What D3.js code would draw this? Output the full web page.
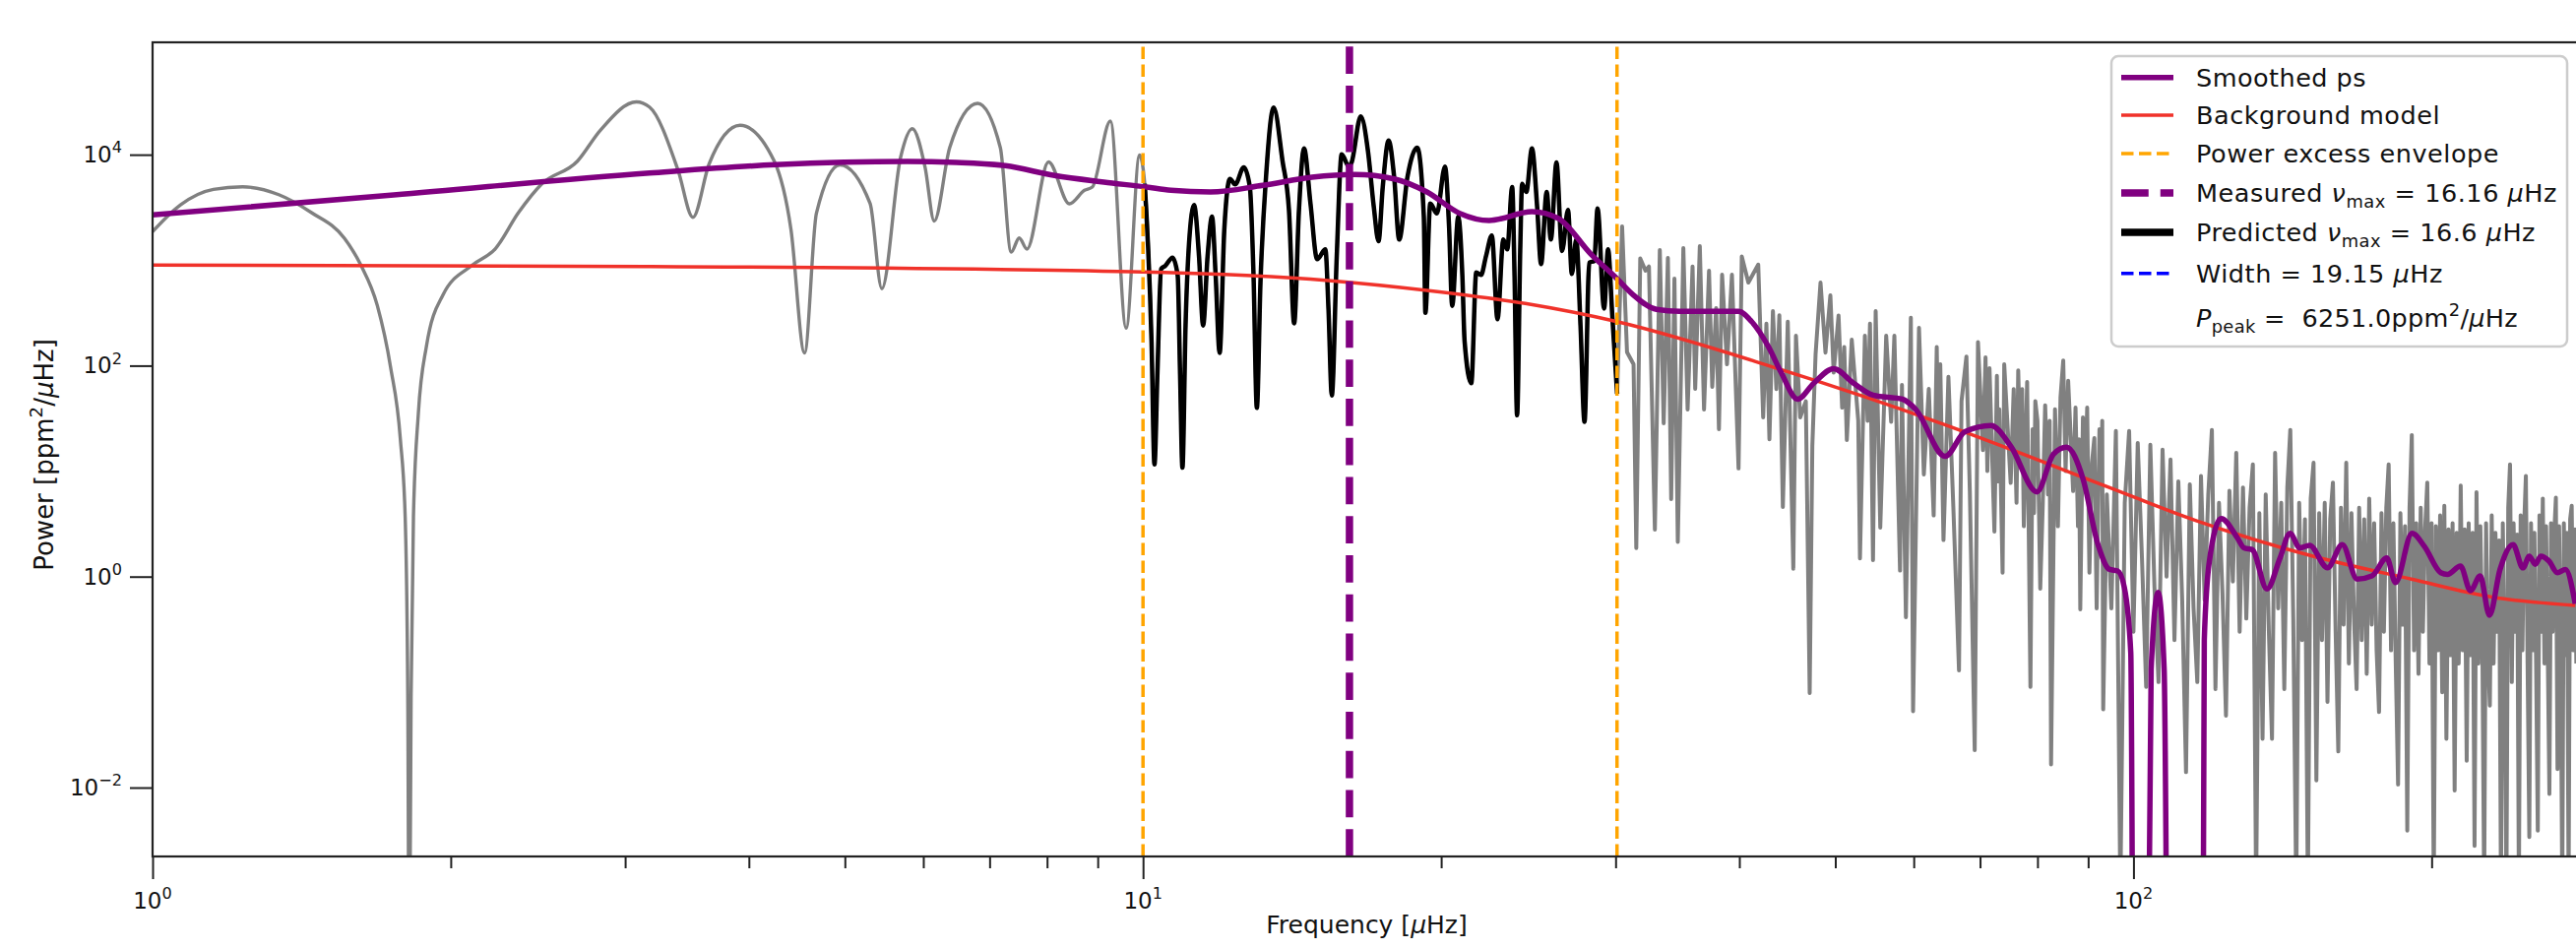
<!DOCTYPE html>
<html>
<head>
<meta charset="utf-8">
<script src="https://cdn.jsdelivr.net/npm/d3@7"></script>
<style>
  html, body { margin: 0; padding: 0; background: #ffffff; }
  text { font-family: "DejaVu Sans", "Noto Sans", sans-serif; white-space: pre; }
</style>
</head>
<body>
<svg id="chart" width="2617" height="964"></svg>
<script>
// ---------------- DATA ----------------
// Power spectrum, low-frequency part (gray), uHz / ppm^2/uHz
const freqLow = [1.0, 1.067, 1.152, 1.233, 1.341, 1.447, 1.562, 1.623, 1.686, 1.739,
  1.779, 1.799, 1.810, 1.816, 1.824, 1.834, 1.855, 1.890, 1.964, 2.103,
  2.219, 2.341, 2.469, 2.685, 2.832, 3.080, 3.175, 3.393, 3.512, 3.646,
  3.919, 4.241, 4.411, 4.553, 4.680, 4.943, 5.302, 5.449, 5.691, 5.848,
  6.025, 6.155, 6.380, 6.808, 7.177, 7.361, 7.499, 7.635, 8.028, 8.426,
  8.728, 8.888, 9.270, 9.616, 9.920];
const powerLow = [1862, 3342, 4688, 4955, 4178, 2820, 1610, 897, 373, 96.8,
  20.1, 3.72, 0.0728, 0.0001, 0.0728, 3.72, 35.2, 152, 467, 897,
  1285, 2820, 5236, 8670, 17030, 31620, 28250, 7110, 2548, 8130,
  18970, 8750, 1958, 132, 2780, 8000, 3443, 536, 9397, 17630,
  7586, 2350, 11650, 30630, 11650, 1194, 1623, 1274, 8530, 3420,
  4592, 4931, 20800, 227, 9910];

// Power spectrum inside the power-excess envelope (black)
const freqMid = [10.04, 10.20, 10.27, 10.34, 10.43, 10.53, 10.71, 10.84, 10.90, 10.96,
  11.04, 11.13, 11.26, 11.39, 11.50, 11.62, 11.74, 11.84, 11.95, 12.08,
  12.24, 12.39, 12.64, 12.82, 12.93, 13.03, 13.14, 13.31, 13.55, 13.83,
  14.04, 14.21, 14.37, 14.54, 14.76, 14.99, 15.28, 15.39, 15.51, 15.69,
  15.87, 16.14, 16.24, 16.59, 16.87, 17.10, 17.29, 17.46, 17.70, 17.93,
  18.14, 18.49, 18.92, 19.21, 19.28, 19.50, 19.80, 20.18, 20.37, 20.52,
  20.81, 21.01, 21.12, 21.45, 21.70, 21.94, 22.20, 22.50, 22.80, 23.11,
  23.32, 23.59, 23.72, 23.86, 24.04, 24.14, 24.38, 24.70, 25.00, 25.23,
  25.56, 25.81, 26.15, 26.49, 26.86, 27.10, 27.38, 27.65, 27.91, 28.22,
  28.55, 28.77, 29.21, 29.48, 29.77, 30.11];
const powerMid = [5296, 170, 11.6, 83.2, 823, 883, 1056, 713, 83.2, 10.8,
  243, 1458, 3327, 1096, 240, 1096, 2588, 713, 132, 1945,
  5891, 5224, 7585, 4931, 713, 39.8, 617, 6110, 27930, 8750,
  2989, 252, 2989, 11480, 3443, 1021, 1265, 348, 52.2, 1096,
  10090, 7695, 8440, 23020, 10840, 3208, 1513, 4931, 13620, 6110,
  1569, 6110, 11650, 2588, 317, 3443, 2780, 7695, 2089, 368.6,
  2588, 713, 170, 68.1, 765, 723.5, 1096, 1710, 275, 1569,
  1265, 4931, 713, 33.9, 1358, 5296, 4429, 11480, 3208, 916,
  4429, 1569, 8440, 1220, 2989, 739, 1569, 243, 29.4, 948,
  984, 3092, 348, 1265, 302, 54.1];

// Power spectrum, high-frequency part (gray)
const freqHigh = [30.46, 30.81, 31.28, 31.48, 31.77, 32.16, 32.42, 32.87, 33.25, 33.55,
  33.88, 34.14, 34.40, 34.67, 35.12, 35.47, 35.88, 36.10, 36.49, 36.85,
  37.28, 37.56, 37.90, 38.15, 38.43, 38.87, 39.32, 39.93, 40.23, 40.85,
  41.80, 42.28, 42.60, 42.90, 43.25, 43.60, 43.90, 44.26, 44.77, 45.35,
  45.63, 46.08, 46.69, 47.11, 47.40, 47.76, 48.31, 48.87, 49.43, 49.81,
  50.38, 50.80, 51.05, 51.36, 51.95, 52.74, 52.95, 53.56, 53.90, 54.20,
  54.58, 54.92, 55.51, 56.28, 56.93, 57.36, 58.12, 58.38, 58.92, 59.60,
  59.91, 60.74, 61.43, 62.14, 62.85, 63.30, 63.55, 63.82, 64.30, 65.04,
  65.79, 66.66, 67.05, 67.82, 68.36, 69.14, 69.67, 70.47, 70.90, 71.20,
  71.56, 72.38, 72.80, 73.00, 73.21, 73.77, 74.05, 75.17, 75.70, 76.20,
  76.50, 76.91, 77.20, 77.50, 78.10, 78.70, 79.10, 79.35, 79.60, 80.00,
  80.52, 81.00, 81.44, 82.00, 82.30, 82.57, 83.33, 83.90, 84.40, 84.94,
  85.40, 85.92, 86.91, 87.40, 87.90, 88.10, 88.37, 88.92, 89.40, 89.80,
  90.27, 90.80, 91.31, 91.80, 92.40, 92.80, 93.00, 93.21,
  94, 95, 96, 97, 98, 99, 100, 101, 102, 103,
  104, 105, 106, 107, 108, 109, 110, 111, 112, 113,
  114, 115, 116, 117, 118, 119, 120, 121, 122, 123,
  124, 125, 126, 127, 128, 129, 130, 131, 132, 133,
  134, 135, 136, 137, 138, 139, 140, 141, 142, 143,
  144, 145, 146, 147, 148, 149, 150, 151, 152, 153,
  154, 155, 156, 157, 158, 159, 160, 161, 162, 163,
  164, 165, 166, 167, 168, 169, 170, 171, 172, 173,
  174, 175, 176, 177, 178, 179, 180, 181, 182, 183,
  184, 185, 186, 187, 188, 189, 190, 191, 192, 193,
  194, 195, 196, 197, 198, 199, 200, 201, 202, 203,
  204, 205, 206, 207, 208, 209, 210, 211, 212, 213,
  214, 215, 216, 217, 218, 219, 220, 221, 222, 223,
  224, 225, 226, 227, 228, 229, 230, 231, 232, 233,
  234, 235, 236, 237, 238, 239, 240, 241, 242, 243,
  244, 245, 246, 247, 248, 249, 250, 251, 252, 253,
  254, 255, 256, 257, 258, 259, 260, 261, 262, 263,
  264, 265, 266, 267, 268, 269, 270, 271, 272, 273,
  274, 275, 276, 277, 278, 279, 280];
const powerHigh = [2089, 134, 103, 1.86, 1040, 796, 871, 2.79, 1247, 28.4,
  1050, 5.43, 668, 2.13, 1301, 38.4, 871, 60.2, 1358, 38.4,
  794, 62.9, 350, 25, 728, 103, 728, 10.6, 1086, 613,
  908, 32.3, 250, 20, 329, 60, 300, 4.57, 261, 1.19,
  192, 32.3, 46.0, 0.0787, 17.3, 128, 613, 133, 464, 85.9,
  298.5, 40, 150, 19.7, 176, 30, 1.49, 192, 30, 250,
  1.43, 329, 2.91, 192, 29.4, 192, 1.14, 65.6, 0.412, 285,
  0.0528, 228, 9.29, 60.2, 3.80, 150, 15, 103, 2.22, 78.4,
  4.54, 0.129, 46.0, 122, 6.47, 0.0226, 167, 15.8, 120, 10,
  94.6, 2.67, 80, 8, 38.5, 1.09, 103, 7.73, 60, 5,
  90, 12, 60, 3, 70, 0.0899, 25, 4, 46.0, 30,
  0.768, 5, 42.1, 6, 30, 0.0166, 38.5, 3, 50, 112,
  10, 71.8, 6.47, 40, 3, 20, 0.489, 32.3, 8, 40,
  1.09, 12, 20.6, 0.5, 25, 8, 30, 0.0551,
  6.0, 0.5, 24, 0.001, 5.0, 24, 0.3, 18.5, 1.5, 0.09,
  17.8, 0.8, 0.1, 16, 1.0, 12.9, 0.25, 8.0, 0.6, 0.014,
  7.5, 0.5, 0.1, 9.0, 0.6, 6.0, 24.6, 0.086, 5.0, 0.7,
  0.048, 6.5, 0.9, 14.9, 0.3, 7.0, 0.4, 4.5, 11.6, 0.001,
  4.0, 0.029, 6.0, 0.3, 0.029, 14.9, 0.5, 5.0, 0.086, 7.0,
  24.6, 0.4, 0.001, 5.0, 0.25, 3.5, 0.001, 5.5, 12, 0.0117,
  4.0, 0.25, 5.0, 0.065, 3.5, 7.8, 0.3, 0.022, 4.5, 0.35,
  12, 0.15, 4.0, 0.4, 0.086, 4.5, 0.25, 3.5, 0.12, 5.5,
  0.35, 3.2, 0.2, 0.052, 4.0, 0.3, 4.5, 11.6, 0.2, 3.2,
  0.15, 0.0107, 4.0, 0.35, 3.0, 0.0039, 4.5, 22, 0.2, 3.2,
  0.12, 4.5, 0.3, 2.8, 7.8, 0.15, 3.2, 0.001, 3.0, 0.2,
  3.8, 0.08, 4.7, 0.029, 2.8, 0.18, 3.2, 0.0094, 2.6, 0.15,
  7.3, 0.2, 2.8, 0.018, 3.2, 0.18, 2.6, 0.0028, 6.3, 0.15,
  3.0, 0.3, 0.001, 3.2, 0.2, 0.06, 3.8, 0.15, 2.6, 0.3,
  2.2, 0.001, 3.2, 0.2, 0.001, 4.5, 11.6, 0.1, 3.2, 0.3,
  2.5, 0.001, 3.8, 0.2, 3.0, 9.0, 0.15, 0.0034, 3.2, 0.2,
  2.6, 0.15, 0.0039, 3.8, 0.3, 5.5, 0.15, 3.0, 0.2, 0.0087,
  3.2, 0.3, 2.6, 5.6, 0.015, 3.0, 0.2, 0.001, 3.2, 0.18,
  2.6, 0.001, 3.5, 4.7, 0.2, 2.8, 0.15];

// Smoothed power spectrum (purple)
const freqSmooth = [1.0, 1.752, 3.175, 4.256, 5.778, 6.478, 7.262, 8.142, 9.131, 10.08,
  10.67, 11.70, 13.21, 14.81, 16.36, 17.93, 19.35, 20.88, 22.36, 24.70,
  26.25, 28.34, 30.11, 31.28, 32.99, 34.81, 39.93, 41.17, 42.77, 44.09,
  45.81, 47.58, 49.81, 52.13, 54.58, 58.47, 60.28, 64.55, 67.59, 71.82,
  75.17, 79.90, 83.02, 85.59, 88.92, 92.09, 94.59, 96.41, 97.90, 99.38,
  100.2, 103.0, 104.2, 105.9, 107.4, 108.7, 117.3, 117.9, 119.3, 122.6,
  127.4, 129.3, 131.8, 136.4, 140.6, 143.9, 147.2, 150.6, 157.0, 162.5,
  168.2, 174.1, 180.2, 183.9, 191.1, 196.7, 204.3, 207.5, 213.9, 218.9,
  223.9, 228.8, 234.5, 241.7, 247.3, 251.0, 254.5, 257.8, 262.8, 267.9,
  273.0, 279.3];
const powerSmooth = [2685, 4150, 6700, 8030, 8620, 8440, 7862, 6340, 5493, 4931,
  4592, 4429, 5117, 6110, 6476, 5891, 4429, 2780, 2375, 2882,
  2495, 1136, 665, 466, 341, 327, 327, 261, 153, 85.9,
  48.1, 68.5, 93.8, 68.5, 52.6, 48.1, 38.5, 13.8, 23.6, 27.0,
  17.3, 6.36, 14.5, 16.9, 8.47, 2.01, 1.17, 1.13, 0.79, 0.19,
  1e-6, 1e-6, 0.132, 0.709, 0.132, 1e-6, 1e-6, 0.251, 1.40, 3.55,
  2.31, 1.87, 1.80, 0.763, 1.50, 2.57, 1.87, 1.98, 1.21, 2.01,
  0.946, 1.015, 1.50, 0.879, 2.57, 1.93, 1.09, 1.05, 1.26, 0.735,
  1.015, 0.430, 1.17, 2.01, 1.21, 1.56, 1.31, 1.56, 1.40, 1.09,
  1.17, 0.553];

// Background model (red)
const freqBackground = [1.0, 3.140, 9.740, 15.39, 19.35, 24.32, 30.11, 43.75, 64.06, 93.79,
  115.3, 151.8, 190.8, 230.8, 279.3];
const powerBackground = [897, 871, 777, 640, 516, 388, 261, 93.8, 28.2, 7.2,
  3.43, 1.56, 0.946, 0.637, 0.533];

// Vertical markers
const envelopeFreqs = [10.0, 30.1];
const measuredNumax = 16.16;

// Ticks
const xDomain = [1, 283];
const yDomain = [0.002223, 116140];
const xMajorTicks = [1, 10, 100];
const xMajorExponents = ["0", "1", "2"];
const xMinorTicks = [2, 3, 4, 5, 6, 7, 8, 9, 20, 30, 40, 50, 60, 70, 80, 90, 200];
const yMajorTicks = [0.01, 1, 100, 10000];
const yMajorExponents = ["\u22122", "0", "2", "4"];

// Text
const xAxisTitle = "Frequency [{i:\u03bc}Hz]";
const yAxisTitle = "Power [ppm{sup:2}/{i:\u03bc}Hz]";
const legendLabels = [
  "Smoothed ps",
  "Background model",
  "Power excess envelope",
  "Measured {i:\u03bd}{sub:max} = 16.16 {i:\u03bc}Hz",
  "Predicted {i:\u03bd}{sub:max} = 16.6 {i:\u03bc}Hz",
  "Width = 19.15 {i:\u03bc}Hz",
  "{i:P}{sub:peak} =  6251.0ppm{sup:2}/{i:\u03bc}Hz"
];

// ---------------- DRAWING ----------------
const PL = 155, PR = 2622, PT = 43, PB = 870;
const svg = d3.select("#chart");

const x = d3.scaleLog().domain(xDomain).range([PL, PR]);
const y = d3.scaleLog().domain(yDomain).range([PB, PT]);

function richText(sel, str, fs) {
  const re = /\{(i|sub|sup):([^}]*)\}/g;
  const parts = [];
  let last = 0, m;
  while ((m = re.exec(str)) !== null) {
    if (m.index > last) parts.push({ t: "n", s: str.slice(last, m.index) });
    parts.push({ t: m[1], s: m[2] });
    last = re.lastIndex;
  }
  if (last < str.length) parts.push({ t: "n", s: str.slice(last) });
  let shift = 0;
  parts.forEach(p => {
    const ts = sel.append("tspan").text(p.s);
    const target = p.t === "sub" ? fs * 0.24 : (p.t === "sup" ? -fs * 0.42 : 0);
    if (target - shift !== 0) ts.attr("dy", target - shift);
    shift = target;
    if (p.t === "i") ts.attr("font-style", "italic");
    if (p.t === "sub" || p.t === "sup") ts.attr("font-size", fs * 0.7);
  });
  return sel;
}
function fitWidth(sel, target) {
  const node = sel.node();
  const nat = node.getComputedTextLength();
  const n = node.textContent.length;
  if (n > 1 && nat > 0) sel.attr("letter-spacing", ((target - nat) / n).toFixed(3));
  return sel;
}

const defs = svg.append("defs");
defs.append("clipPath").attr("id", "plotClip")
  .append("rect").attr("x", PL).attr("y", PT).attr("width", PR - PL).attr("height", PB - PT);

const zip = (fs, ps) => fs.map((f, i) => ({ f: f, p: ps[i] }));
const lowData = zip(freqLow, powerLow);
const midData = zip(freqMid, powerMid);
const highData = zip(freqHigh, powerHigh);
const smoothData = zip(freqSmooth, powerSmooth);
const bgData = zip(freqBackground, powerBackground);

const lineSmooth = d3.line().x(d => x(d.f)).y(d => y(d.p)).curve(d3.curveMonotoneX);
const lineLinear = d3.line().x(d => x(d.f)).y(d => y(d.p));

const plot = svg.append("g").attr("clip-path", "url(#plotClip)");

// gray spectrum
plot.append("path").datum(lowData.concat(midData))
  .attr("d", lineSmooth).attr("fill", "none").attr("stroke", "#808080")
  .attr("stroke-width", 3.4).attr("stroke-linejoin", "round");
plot.append("path").datum([midData[midData.length - 1]].concat(highData))
  .attr("d", lineLinear).attr("fill", "none").attr("stroke", "#808080")
  .attr("stroke-width", 4.0).attr("stroke-linejoin", "round");
// black (envelope region)
plot.append("path").datum(midData)
  .attr("d", lineSmooth).attr("fill", "none").attr("stroke", "#000000")
  .attr("stroke-width", 4.5).attr("stroke-linejoin", "round");
// background model
plot.append("path").datum(bgData)
  .attr("d", lineSmooth).attr("fill", "none").attr("stroke", "#f0322a")
  .attr("stroke-width", 3.5);
// smoothed ps
plot.append("path").datum(smoothData)
  .attr("d", lineSmooth).attr("fill", "none").attr("stroke", "#800080")
  .attr("stroke-width", 5.5).attr("stroke-linejoin", "round");

// envelope lines
plot.selectAll("line.env").data(envelopeFreqs).enter().append("line")
  .attr("class", "env")
  .attr("x1", d => x(d)).attr("x2", d => x(d))
  .attr("y1", PB).attr("y2", PT)
  .attr("stroke", "#ffa500").attr("stroke-width", 3.5)
  .attr("stroke-dasharray", "12.5,5.5");
// measured numax
plot.append("line")
  .attr("x1", x(measuredNumax)).attr("x2", x(measuredNumax))
  .attr("y1", PB).attr("y2", PT)
  .attr("stroke", "#800080").attr("stroke-width", 7.5)
  .attr("stroke-dasharray", "27.75,12");

// spines
svg.append("rect").attr("x", PL).attr("y", PT).attr("width", PR - PL).attr("height", PB - PT)
  .attr("fill", "none").attr("stroke", "#222222").attr("stroke-width", 2.2);

// axes
const tickColor = "#222222";
const xMajorAxis = d3.axisBottom(x).tickValues(xMajorTicks).tickSize(23).tickFormat(() => "");
const xMinorAxis = d3.axisBottom(x).tickValues(xMinorTicks).tickSize(12).tickFormat(() => "");
const yMajorAxis = d3.axisLeft(y).tickValues(yMajorTicks).tickSize(23).tickFormat(() => "");
function styleAxis(g) {
  g.select(".domain").remove();
  g.selectAll(".tick line").attr("stroke", tickColor).attr("stroke-width", 2);
  g.selectAll(".tick text").remove();
}
svg.append("g").attr("transform", `translate(0,${PB})`).call(xMajorAxis).call(styleAxis);
svg.append("g").attr("transform", `translate(0,${PB})`).call(xMinorAxis).call(styleAxis);
svg.append("g").attr("transform", `translate(${PL},0)`).call(yMajorAxis).call(styleAxis);

const tickFs = 23;
const xLab = svg.append("g");
xMajorTicks.forEach((t, i) => {
  const tx = xLab.append("text").attr("x", x(t)).attr("y", 923)
    .attr("text-anchor", "middle").attr("font-size", tickFs).attr("fill", "#111");
  richText(tx, "10{sup:" + xMajorExponents[i] + "}", tickFs);
});
const yLab = svg.append("g");
yMajorTicks.forEach((t, i) => {
  const ty = yLab.append("text").attr("x", 124).attr("y", y(t) + 8)
    .attr("text-anchor", "end").attr("font-size", tickFs).attr("fill", "#111");
  richText(ty, "10{sup:" + yMajorExponents[i] + "}", tickFs);
});

// axis titles
const labFs = 25;
richText(svg.append("text").attr("x", (PL + PR) / 2).attr("y", 948)
  .attr("text-anchor", "middle").attr("font-size", labFs).attr("fill", "#111"), xAxisTitle, labFs);
richText(svg.append("text").attr("transform", `translate(54,462) rotate(-90)`)
  .attr("text-anchor", "middle").attr("font-size", 26).attr("fill", "#111"), yAxisTitle, 26);

// legend
const leg = svg.append("g");
leg.append("rect").attr("x", 2145).attr("y", 57).attr("width", 463).attr("height", 295)
  .attr("rx", 7).attr("ry", 7)
  .attr("fill", "#ffffff").attr("fill-opacity", 0.8)
  .attr("stroke", "#cccccc").attr("stroke-width", 2.5);
const baselines = [87.7, 126, 165, 205, 245, 286.7, 331.7];
const targetWidths = [173, 248, 308, 367, 345, 251, 327];
const handleStyles = [
  { c: "#800080", w: 5.5, d: null },
  { c: "#f0322a", w: 3.5, d: null },
  { c: "#ffa500", w: 3.5, d: "12.5,5.5" },
  { c: "#800080", w: 7.5, d: "27.75,12" },
  { c: "#000000", w: 7.5, d: null },
  { c: "#0000ff", w: 3.5, d: "12.5,5.5" },
  null
];
legendLabels.forEach((lab, i) => {
  const by = baselines[i];
  const hs = handleStyles[i];
  if (hs) {
    const ln = leg.append("line").attr("x1", 2155).attr("x2", 2208)
      .attr("y1", by - 9).attr("y2", by - 9)
      .attr("stroke", hs.c).attr("stroke-width", hs.w);
    if (hs.d) ln.attr("stroke-dasharray", hs.d);
  }
  const tx = leg.append("text").attr("x", 2231).attr("y", by)
    .attr("font-size", 25.5).attr("fill", "#111");
  richText(tx, lab, 25.5);
  fitWidth(tx, targetWidths[i]);
});
</script>
</body>
</html>
